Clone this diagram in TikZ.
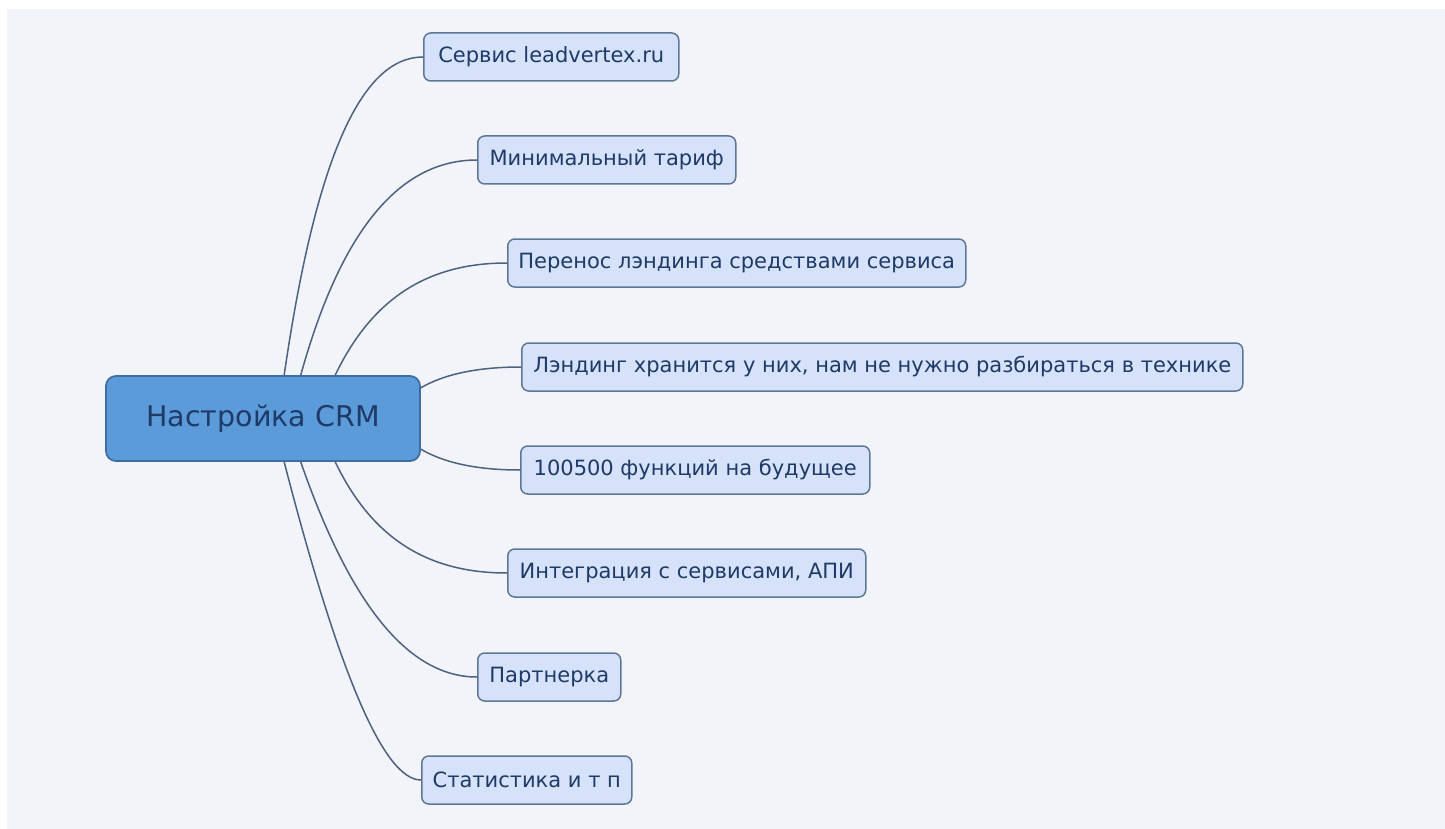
\documentclass[tikz,border=0pt]{standalone}
\usepackage{fontspec}
\setmainfont{DejaVu Sans}
\usepackage{tikz}

\definecolor{panel}{HTML}{F2F4F9}
\definecolor{leaffill}{HTML}{D6E2F9}
\definecolor{leafdraw}{HTML}{5F7796}
\definecolor{rootfill}{HTML}{5C9BDA}
\definecolor{rootdraw}{HTML}{3F6EA3}
\definecolor{linkcol}{HTML}{4D6280}
\definecolor{txtcol}{HTML}{1E3A66}

\tikzset{
  leaf/.style={draw=leafdraw, fill=leaffill, line width=1.5pt, rounded corners=7pt,
    minimum height=48pt, inner xsep=10pt, anchor=west, text=txtcol,
    font=\fontsize{21}{24}\selectfont},
  rootbox/.style={draw=rootdraw, fill=rootfill, line width=1.8pt, rounded corners=10pt,
    minimum width=314pt, minimum height=85pt, text=txtcol,
    font=\fontsize{28.5}{32}\selectfont},
  branch/.style={linkcol, line width=1.5pt}
}

\begin{document}
\begin{tikzpicture}[x=1pt,y=-1pt]
  \useasboundingbox (0,0) rectangle (1445,829);
  \fill[panel] (7,9) rectangle (1445,829);

  \coordinate (C) at (263,418.5);
  \node[rootbox] (crm) at (C) {Настройка CRM};

  \node[leaf, minimum width=255pt] (serv) at (423,57) {Сервис leadvertex.ru};
  \node[leaf, minimum width=258pt] (tarif) at (477,160) {Минимальный тариф};
  \node[leaf, minimum width=458pt] (perenos) at (507,263) {Перенос лэндинга средствами сервиса};
  \node[leaf, minimum width=721pt] (hran) at (521,367) {Лэндинг хранится у них, нам не нужно разбираться в технике};
  \node[leaf, minimum width=349pt] (func) at (520,470) {100500 функций на будущее};
  \node[leaf, minimum width=358pt] (integr) at (507,573) {Интеграция с сервисами, АПИ};
  \node[leaf, minimum width=143pt] (partn) at (477,677) {Партнерка};
  \node[leaf, minimum width=210pt] (stat) at (421,780) {Статистика и т п};

  % upper branches
  \draw[branch] (crm.64.8) .. controls +(31,-213) and +(-63,0) .. (serv.west);
  \draw[branch] (crm.49) .. controls +(40,-144) and +(-78,0) .. (tarif.west);
  \draw[branch] (crm.31.6) .. controls +(36,-75) and +(-81,0) .. (perenos.west);
  \draw[branch] (crm.11.7) .. controls +(22,-13) and +(-45,0) .. (hran.west);
  % lower branches
  \draw[branch] (crm.-11.7) .. controls +(22,13) and +(-45,0) .. (func.west);
  \draw[branch] (crm.-31.6) .. controls +(36,75) and +(-81,0) .. (integr.west);
  \draw[branch] (crm.-49) .. controls +(50,144) and +(-68,0) .. (partn.west);
  \draw[branch] (crm.-64.8) .. controls +(55,213) and +(-37,0) .. (stat.west);
\end{tikzpicture}
\end{document}
